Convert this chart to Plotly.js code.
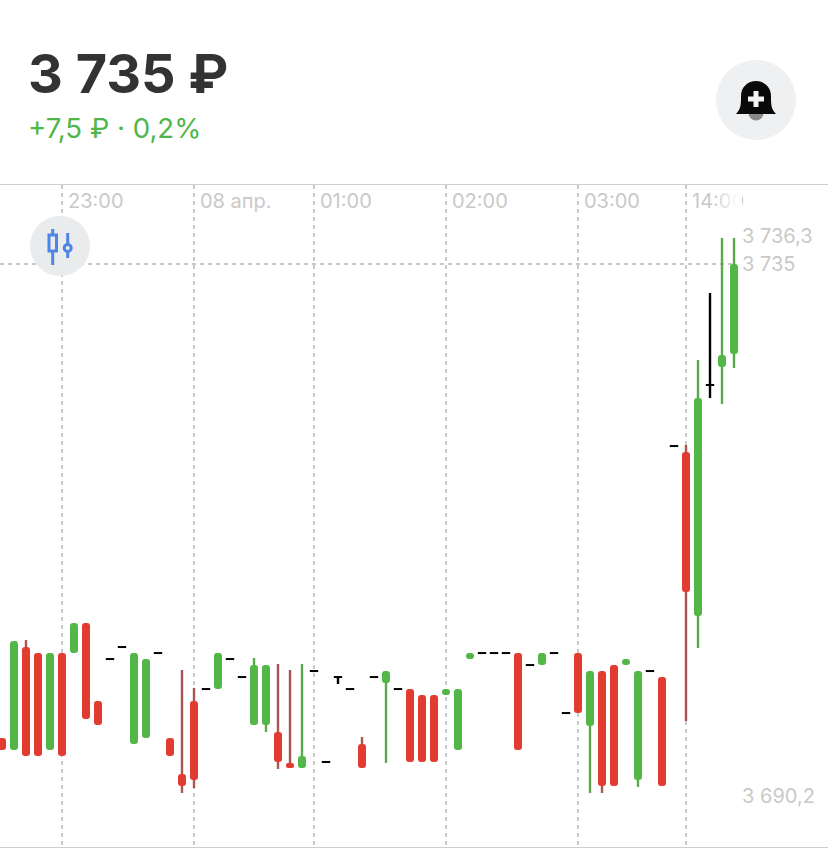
<!DOCTYPE html>
<html><head><meta charset="utf-8">
<script src="https://cdn.plot.ly/plotly-3.0.1.min.js"></script>
<style>html,body{margin:0;padding:0;background:#fff;overflow:hidden}#c{position:relative;width:828px;height:848px}
#fade{position:absolute;left:712px;top:190px;width:30px;height:24px;background:linear-gradient(to right,rgba(255,255,255,0),#fff 90%);pointer-events:none}</style>
</head><body><div id="c"><div id="chart" style="width:828px;height:848px"></div><div id="fade"></div></div>
<script>
const opens  = [3695.5,3694.5,3703.08,3702.58,3694.5,3702.58,3702.58,3705.08,3698.58,3702.08,3703.08,3695,3695.5,3702.58,3695.5,3692.5,3698.58,3699.58,3699.58,3702.08,3700.58,3696.58,3696.58,3696,3693.42,3693,3701.08,3693.5,3700.58,3699.58,3695,3700.58,3700.08,3699.58,3699.58,3699.08,3699.08,3699.08,3694.5,3702.08,3702.58,3702.58,3702.58,3702.58,3701.58,3701.58,3702.58,3697.58,3702.58,3696.5,3701.08,3701.58,3701.58,3692,3701.08,3700.58,3719.83,3719.33,3705.67,3724.92,3726.42,3727.5];
const closes = [3694.5,3703.58,3694,3694,3702.58,3694,3705.08,3697.08,3696.58,3702.08,3703.08,3702.58,3702.08,3702.58,3694,3691.5,3692,3699.58,3702.58,3702.08,3700.58,3701.58,3701.58,3693.5,3693,3694,3701.08,3693.5,3700.58,3699.58,3693,3700.58,3701.08,3699.58,3693.5,3693.5,3693.5,3699.58,3699.58,3702.58,3702.58,3702.58,3702.58,3694.5,3701.58,3702.58,3702.58,3697.58,3697.58,3701.08,3691.5,3691.5,3702.08,3701.08,3701.08,3691.5,3719.83,3707.67,3723.83,3724.92,3727.42,3735];
const highs  = [3695.5,3703.58,3703.67,3702.58,3702.58,3702.58,3705.08,3705.08,3698.58,3702.08,3703.08,3702.58,3702.08,3702.58,3695.5,3701.17,3699.67,3699.58,3702.58,3702.08,3700.58,3702.17,3701.58,3701.67,3701.17,3701.67,3701.08,3693.5,3700.58,3699.58,3695.58,3700.58,3701.08,3699.58,3699.58,3699.08,3699.08,3699.58,3699.58,3702.58,3702.58,3702.58,3702.58,3702.58,3701.58,3702.58,3702.58,3697.58,3702.58,3701.08,3701.08,3701.58,3702.08,3701.08,3701.08,3700.58,3719.83,3719.92,3727,3732.58,3737.17,3737.17];
const lows   = [3694.5,3694.5,3694,3694,3694.5,3694,3702.58,3697.08,3696.58,3702.08,3703.08,3695,3695.5,3702.58,3694,3690.92,3691.33,3699.58,3699.58,3702.08,3700.58,3696.58,3696,3692.92,3693,3693,3701.08,3693.5,3700,3699.58,3693,3700.58,3693.42,3699.58,3693.5,3693.5,3693.5,3699.08,3694.5,3702.08,3702.58,3702.58,3702.58,3694.5,3701.58,3701.58,3702.58,3697.58,3697.58,3690.92,3690.92,3691.5,3701.58,3691.42,3701.08,3691.5,3719.83,3696.92,3703,3723.83,3723.33,3726.33];
const timeTicks  = [5,16,26,37,48,57];
const timeLabels = ['23:00','08 апр.','01:00','02:00','03:00','14:00'];
const priceLabels = ['3 736,3','3 735','3 690,2'];
const headline = '3 735 ₽';
const changeText = '+7,5 ₽ · 0,2%';

const RED='#e23b30', GREEN='#52b747', RWICK='#a95550', GWICK='#5aa94e', GREY='#c9c9c9';
const W=828,H=848,TOP=185,BOT=847;
const px=x=>x/W, py=y=>1-y/H;
const idx=opens.map((_,i)=>i);
const isDoji=i=>opens[i]===closes[i];
const bodyI=idx.filter(i=>!isDoji(i));
const wickI=idx.filter(i=>highs[i]>Math.max(opens[i],closes[i])||lows[i]<Math.min(opens[i],closes[i]));
const dojiI=idx.filter(isDoji);

const traces=[
 {type:'bar',x:wickI,base:wickI.map(i=>lows[i]),y:wickI.map(i=>highs[i]-lows[i]),width:0.2,
  marker:{color:wickI.map(i=>isDoji(i)?'#000':(closes[i]>opens[i]?GWICK:RWICK)),line:{width:0}},hoverinfo:'skip'},
 {type:'bar',x:bodyI,base:bodyI.map(i=>Math.min(opens[i],closes[i])),y:bodyI.map(i=>Math.abs(closes[i]-opens[i])),width:0.667,
  marker:{color:bodyI.map(i=>closes[i]>opens[i]?GREEN:RED),cornerradius:3,line:{width:0}},hoverinfo:'skip'},
 {type:'scatter',mode:'markers',x:dojiI,y:dojiI.map(i=>closes[i]),
  marker:{symbol:'line-ew',size:6,color:'#000',line:{width:2,color:'#000'}},hoverinfo:'skip'}
];

const pricePx=[236,264,796];
const annText=(t,x,y,size,color,extra)=>Object.assign({text:t,xref:'paper',yref:'paper',x:px(x),y:py(y),xanchor:'left',yanchor:'middle',showarrow:false,
  font:{family:'Inter, Roboto, sans-serif',size:size,color:color}},extra||{});
const annotations=[
 annText('<b>'+headline+'</b>',26,73,54,'#333333'),
 annText(changeText,26,128,27.6,'#4fb64a'),
 ...priceLabels.map((t,i)=>annText(t,740,pricePx[i],20,GREY)),
 ...timeTicks.map((v,i)=>({text:timeLabels[i],xref:'x',yref:'paper',x:v,xshift:4,y:py(201),xanchor:'left',yanchor:'middle',showarrow:false,
   font:{family:'Inter, Roboto, sans-serif',size:20,color:GREY}}))
];
const P=s=>s.replace(/(\d+\.?\d*),(\d+\.?\d*)/g,(m,a,b)=>px(+a)+','+py(+b));
const pcirc=(cx,cy,r,fill,lw,lc)=>({type:'circle',xref:'paper',yref:'paper',x0:px(cx-r),x1:px(cx+r),y0:py(cy+r),y1:py(cy-r),fillcolor:fill,line:{width:lw||0,color:lc||fill},layer:'above'});
const ppath=(d,fill,lw,lc)=>({type:'path',xref:'paper',yref:'paper',path:P(d),fillcolor:fill,line:{width:lw||0,color:lc||fill},layer:'above'});
const BLUE='#4f86e6', ICON='#e9ebed';
const shapes=[
 {type:'line',xref:'paper',yref:'y',x0:0,x1:px(736),y0:3735,y1:3735,line:{color:GREY,width:2,dash:'4px,4px'},layer:'below'},
 pcirc(60,246,30,ICON),
 ppath('M52.7,229 L52.7,265',"rgba(0,0,0,0)",3,BLUE),
 ppath('M67.7,233 L67.7,258',"rgba(0,0,0,0)",3,BLUE),
 ppath('M49,235 L56.5,235 L56.5,251 L49,251 Z',ICON,3,BLUE),
 pcirc(67.7,248,3.5,ICON,3,BLUE),
 pcirc(756,100,40,'#eff0f1'),
 pcirc(756,113,7.5,'#8a8a8a'),
 ppath('M736,114 C741,109 741,104 741,96 C741,87 748,81 756,81 C764,81 771,87 771,96 C771,104 771,109 776,114 Z','#0a0a0a'),
 ppath('M753.5,91 L758.5,91 L758.5,96.5 L764,96.5 L764,101.5 L758.5,101.5 L758.5,107 L753.5,107 L753.5,101.5 L748,101.5 L748,96.5 L753.5,96.5 Z','#f4f4f4')
];
const layout={
 width:W,height:H,margin:{l:0,r:0,t:0,b:0},paper_bgcolor:'#fff',plot_bgcolor:'#fff',
 showlegend:false,barmode:'overlay',hovermode:false,font:{family:'Inter, Roboto, sans-serif'},
 xaxis:{range:[-1/6,(W-2)/12],fixedrange:true,zeroline:false,showticklabels:false,ticks:'',tickmode:'array',tickvals:timeTicks,
   showgrid:true,gridcolor:GREY,gridwidth:2,griddash:'4px,4px',showline:true,mirror:true,linecolor:'#cfcfcf',linewidth:1.5},
 yaxis:{domain:[1-BOT/H,1-TOP/H],range:[3735-(BOT-264)/12,3735+(264-TOP)/12],fixedrange:true,zeroline:false,showgrid:false,showticklabels:false,ticks:''},
 annotations,shapes
};
Plotly.newPlot('chart',traces,layout,{displayModeBar:false,staticPlot:true});
</script></body></html>
